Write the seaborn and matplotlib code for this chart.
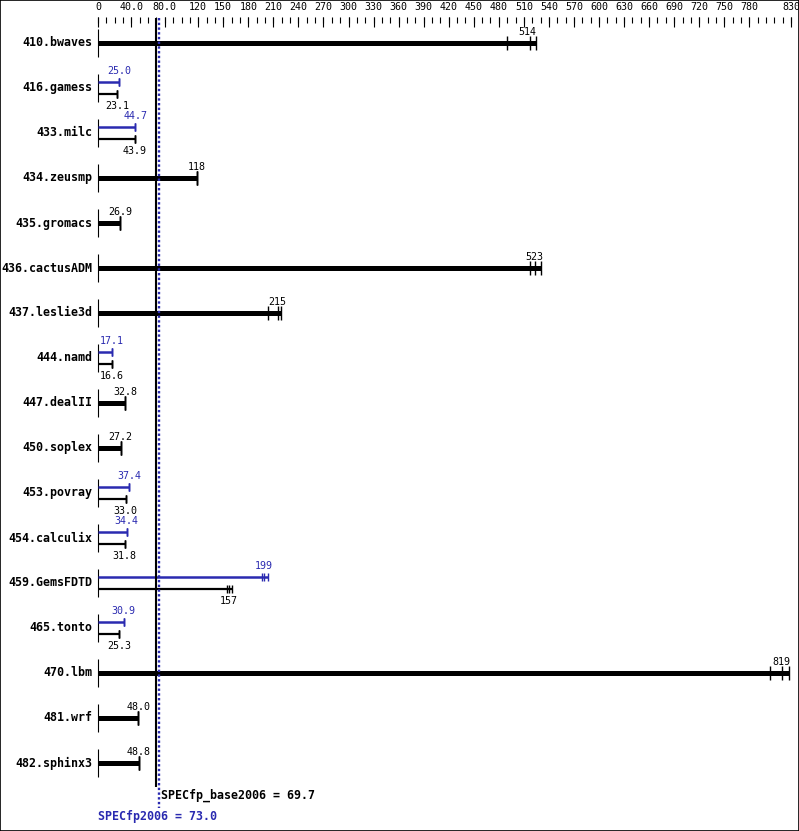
import matplotlib
matplotlib.use("Agg")
import matplotlib.pyplot as plt
import pandas as pd
import seaborn as sns

# benchmark names, top to bottom
benchmarks = ['410.bwaves', '416.gamess', '433.milc', '434.zeusmp', '435.gromacs',
              '436.cactusADM', '437.leslie3d', '444.namd', '447.dealII', '450.soplex',
              '453.povray', '454.calculix', '459.GemsFDTD', '465.tonto', '470.lbm',
              '481.wrf', '482.sphinx3']

# base ratio: median and the three runs
base_median = [514, 23.1, 43.9, 118, 26.9, 523, 215, 16.6, 32.8, 27.2,
               33.0, 31.8, 157, 25.3, 819, 48.0, 48.8]
base_runs = [[490, 517, 524], [23.1, 23.1, 23.1], [43.9, 43.9, 43.9], [118, 118, 118],
             [26.9, 26.9, 26.9], [517, 523, 531], [203, 215, 219], [16.6, 16.6, 16.6],
             [32.8, 32.8, 32.8], [27.2, 27.2, 27.2], [33.0, 33.0, 33.0], [31.8, 31.8, 31.8],
             [155, 157, 161], [25.3, 25.3, 25.3], [805, 819, 827], [48.0, 48.0, 48.0],
             [48.8, 48.8, 48.8]]

# peak ratio (None where peak == base)
peak_median = [None, 25.0, 44.7, None, None, None, None, 17.1, None, None,
               37.4, 34.4, 199, 30.9, None, None, None]
peak_runs = [None, [25.0, 25.0, 25.0], [44.7, 44.7, 44.7], None, None, None, None,
             [17.1, 17.1, 17.1], None, None, [37.4, 37.4, 37.4], [34.4, 34.4, 34.4],
             [197, 199, 204], [30.9, 30.9, 30.9], None, None, None]

base_score = 69.7
peak_score = 73.0

tick_values = [0, 40, 80, 120, 150, 180, 210, 240, 270, 300, 330, 360, 390, 420, 450,
               480, 510, 540, 570, 600, 630, 660, 690, 720, 750, 780, 830]
tick_labels = ['0', '40.0', '80.0', '120', '150', '180', '210', '240', '270', '300',
               '330', '360', '390', '420', '450', '480', '510', '540', '570', '600',
               '630', '660', '690', '720', '750', '780', '830']

BLUE = '#2a2ab0'
MONO = ['DejaVu Sans Mono']


def fmt(v):
    return f"{v:g}" if v >= 100 else f"{v:.1f}"


sns.set_theme(style="white")
plt.rcParams['font.family'] = MONO

fig = plt.figure(figsize=(7.99, 8.31), dpi=100)
ax = fig.add_axes([0, 0, 1, 1])

# pixel mapping: x=0 at 98px, 0.835 px per unit; rows 45px apart, first at 43px
PX = 0.835
ax.set_xlim(-98 / PX, (799 - 98) / PX)
ax.set_ylim((831 - 43) / 45, -43 / 45)
ax.set_xticks([])
ax.set_yticks([])
for s in ax.spines.values():
    s.set_visible(True)
    s.set_color('black')
    s.set_linewidth(1.2)

rp = 1 / 45  # one pixel in row units

# top scale
minor = list(range(0, 831, 10))
ax.vlines(minor, -26 * rp, -20 * rp, color='black', lw=0.8)
ax.vlines(tick_values, -26 * rp, -16 * rp, color='black', lw=0.8)
for v, l in zip(tick_values, tick_labels):
    ax.text(v, -36 * rp, l, ha='center', va='center', fontsize=7.2, color='black')

thick_rows, thin_rows = [], []
for i, name in enumerate(benchmarks):
    ax.text(-6 / PX, i, name, ha='right', va='center', fontsize=8.4,
            fontweight='bold', color='black')
    ax.vlines(0, i - 14 * rp, i + 14 * rp, color='black', lw=0.8)
    if peak_median[i] is None:
        ax.hlines(i, 0, max(base_runs[i]), color='black', lw=3.6)
        for r in base_runs[i]:
            thick_rows.append({'value': r, 'row': i, 'kind': 'base'})
        ax.text(base_median[i], i - 11 * rp, fmt(base_median[i]),
                ha='center', va='center', fontsize=7.2, color='black')
    else:
        yp, yb = i - 6 * rp, i + 6 * rp
        ax.hlines(yp, 0, max(peak_runs[i]), color=BLUE, lw=1.8)
        ax.hlines(yb, 0, max(base_runs[i]), color='black', lw=1.6)
        for r in peak_runs[i]:
            thin_rows.append({'value': r, 'row': yp, 'kind': 'peak'})
        for r in base_runs[i]:
            thin_rows.append({'value': r, 'row': yb, 'kind': 'base'})
        ax.text(peak_median[i], i - 17 * rp, fmt(peak_median[i]), ha='center',
                va='center', fontsize=7.2, color=BLUE)
        ax.text(base_median[i], i + 18 * rp, fmt(base_median[i]), ha='center',
                va='center', fontsize=7.2, color='black')

pal = {'base': 'black', 'peak': BLUE}
sns.scatterplot(data=pd.DataFrame(thick_rows), x='value', y='row', hue='kind',
                palette=pal, marker='|', s=110, linewidth=1.0, legend=False, ax=ax)
sns.scatterplot(data=pd.DataFrame(thin_rows), x='value', y='row', hue='kind',
                palette=pal, marker='|', s=36, linewidth=1.0, legend=False, ax=ax)

# overall scores
ax.vlines(base_score, -25 * rp, (787 - 43) * rp, color='black', lw=1.5)
ax.vlines(peak_score, -25 * rp, (808 - 43) * rp, color=BLUE, lw=1.7,
          linestyles=(0, (1, 1)))
ax.text(peak_score + 2 / PX, (795 - 43) * rp, f"SPECfp_base2006 = {base_score}",
        ha='left', va='center', fontsize=8.4, fontweight='bold', color='black')
ax.text(0, (817 - 43) * rp, f"SPECfp2006 = {peak_score}",
        ha='left', va='center', fontsize=8.4, fontweight='bold', color=BLUE)

ax.set_xlabel('')
ax.set_ylabel('')
fig.savefig('out.png', dpi=100)
